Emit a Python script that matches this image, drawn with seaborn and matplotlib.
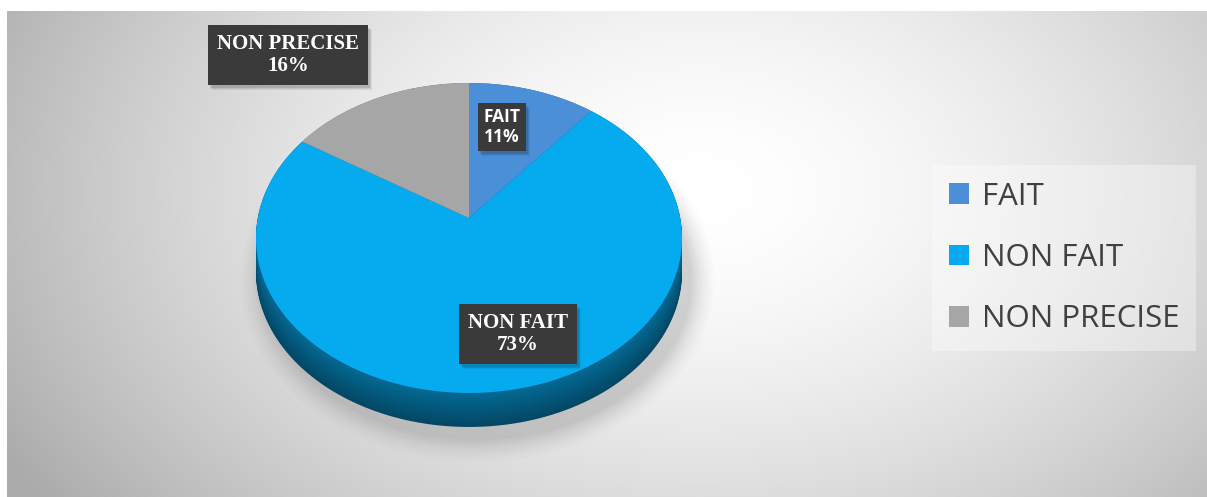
import numpy as np
import matplotlib
matplotlib.use("Agg")
import matplotlib.pyplot as plt
from matplotlib.patches import Patch, Ellipse, Rectangle
from matplotlib.path import Path
import matplotlib.colors as mcolors
import matplotlib.transforms as mtransforms
import seaborn as sns

# ---- data ----
categories = ["FAIT", "NON FAIT", "NON PRECISE"]
percentages = [11, 73, 16]
slice_colors = ["#4a8fd8", "#06aaef", "#a6a6a6"]

sns.set_theme(style="white")
plt.rcParams["font.family"] = ["Open Sans", "DejaVu Sans"]

W, H = 1207, 497
fig = plt.figure(figsize=(W / 100, H / 100), dpi=100)
fig.patch.set_facecolor("white")


def fx(px):
    return px / W


def fy(py):
    return 1 - py / H


# ---- radial gradient backdrop ----
bg = fig.add_axes([fx(7), 0, fx(1200), fy(11)])
gx, gy = np.meshgrid(np.linspace(7, 1207, 600), np.linspace(11, 497, 250))
r = np.sqrt(((gx - 700) / 640) ** 2 + ((gy - 190) / 430) ** 2)
shade = 1 - 0.23 * np.clip(r, 0, 1.25) ** 1.6
bg.imshow(shade, cmap="gray", vmin=0, vmax=1, aspect="auto",
          extent=[0, 1, 0, 1], interpolation="bicubic")
bg.set_axis_off()


class TiltTransform(mtransforms.Transform):
    """Perspective view of a horizontal disk seen from above and in front."""
    input_dims = output_dims = 2
    is_separable = False
    has_inverse = False

    def __init__(self, sx, sy, c):
        super().__init__()
        self.sx, self.sy, self.c = sx, sy, c

    def transform_non_affine(self, values):
        v = np.asarray(values, dtype=float)
        d = 1 + self.c * v[:, 1]
        return np.column_stack([self.sx * v[:, 0] / d, self.sy * v[:, 1] / d])

    def transform_path_non_affine(self, path):
        # flatten the curves finely before projecting them
        ts = np.linspace(0, 1, 32)
        pts = [seg(ts) for seg, _ in path.iter_bezier()]
        verts = np.concatenate(pts)
        return Path(self.transform_non_affine(verts), closed=True)


# ---- pie (top face plus extruded side) ----
left, right, top, bottom = 250, 690, 78, 432
apex_x, apex_y = 469, 218
depth_px = 34
ax = fig.add_axes([fx(left), fy(bottom), fx(right - left), (bottom - top) / H])
tilt = TiltTransform(sx=211.2, sy=152.4, c=0.129)

# soft drop shadow
for i, a in enumerate(np.linspace(0.05, 0.012, 10)):
    ax.add_patch(Ellipse((8, -62), 430 + 5 * i, 320 + 5 * i,
                         facecolor="#707070", edgecolor="none", alpha=a,
                         zorder=0, clip_on=False))


def darker(c, f):
    return tuple(np.array(mcolors.to_rgb(c)) * f)


for k in np.linspace(depth_px, 0.0, 36):
    f = 0.42 + 0.2 * (1 - k / depth_px)
    wedges, _ = ax.pie(percentages, startangle=90, counterclock=False, radius=1,
                       colors=[darker(c, f) for c in slice_colors],
                       wedgeprops=dict(linewidth=0, zorder=1))
    shift = mtransforms.Affine2D().translate(0, -k)
    for w in wedges:
        w.set_transform(tilt + shift + ax.transData)

wedges, _ = ax.pie(percentages, startangle=90, counterclock=False, radius=1,
                   colors=slice_colors, wedgeprops=dict(linewidth=0, zorder=2))
for w in wedges:
    w.set_transform(tilt + ax.transData)

ax.set_aspect("auto")
ax.set_xlim(left - apex_x, right - apex_x)
ax.set_ylim(apex_y - bottom, apex_y - top)
ax.set_axis_off()

# ---- data labels ----
serif_bold = dict(family=["Liberation Serif", "DejaVu Serif"], weight="bold")
label_pos = {"NON PRECISE": (288, 55), "FAIT": (502, 127), "NON FAIT": (518, 334)}
label_texts = []
for cat, val in zip(categories, percentages):
    x, y = label_pos[cat]
    if cat == "FAIT":
        font = dict(family=["Open Sans", "DejaVu Sans"], weight="bold", size=12.5)
        pad = 0.3
    else:
        font = dict(serif_bold, size=15)
        pad = 0.42
    t = fig.text(fx(x), fy(y), f"{cat}\n{val}%", ha="center", va="center",
                 color="white", linespacing=1.15, zorder=5,
                 bbox=dict(boxstyle=f"square,pad={pad}", facecolor="#3a3a3a",
                           edgecolor="none"), **font)
    label_texts.append(t)

# drop shadows behind the label boxes
fig.canvas.draw()
renderer = fig.canvas.get_renderer()
for t in label_texts:
    bb = t.get_bbox_patch().get_window_extent(renderer)
    for j, a in enumerate([0.10, 0.08, 0.06]):
        fig.patches.append(Rectangle((bb.x0 + 2 + j, bb.y0 - 3 - j), bb.width, bb.height,
                                     transform=None, facecolor="black", alpha=a,
                                     edgecolor="none", zorder=4))

# ---- legend ----
handles = [Patch(facecolor=c, edgecolor="none") for c in slice_colors]
leg = fig.legend(handles, categories, loc="center left",
                 bbox_to_anchor=(fx(916), fy(258)), frameon=True,
                 fontsize=22.5, handlelength=0.65, handleheight=0.65,
                 handletextpad=0.4, labelspacing=1.0, borderpad=0.55,
                 labelcolor="#404040")
leg.get_frame().set_facecolor("white")
leg.get_frame().set_alpha(0.35)
leg.get_frame().set_edgecolor("none")
leg.get_frame().set_boxstyle("square,pad=0")

fig.savefig("out.png", dpi=100, facecolor=fig.get_facecolor())
